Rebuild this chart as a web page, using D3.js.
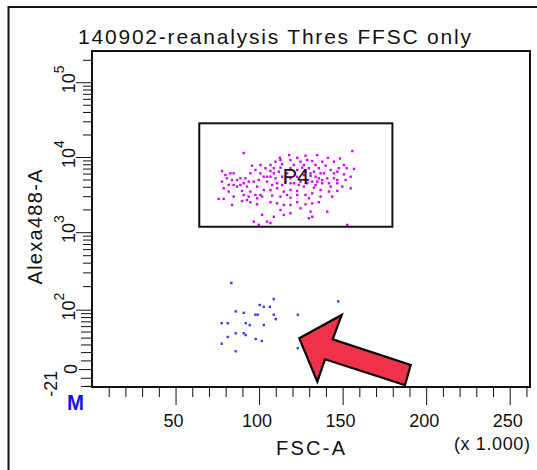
<!DOCTYPE html>
<html>
<head>
<meta charset="utf-8">
<script src="https://cdn.jsdelivr.net/npm/d3@7"></script>
<style>
  html, body { margin: 0; padding: 0; background: #fff; }
  svg { display: block; font-family: Arial, "Liberation Sans", sans-serif; }
</style>
</head>
<body>
<svg id="chart" width="537" height="470"></svg>
<script>
// ---- text ----
const titleText = "140902-reanalysis Thres FFSC only";
const xLabelText = "FSC-A";
const yLabelText = "Alexa488-A";
const xUnitText = "(x 1.000)";
const gateName = "P4";

// ---- axis ticks ----
const xMajorTicks = [50, 100, 150, 200, 250];          // FSC-A, x 1000
const xMinorTicks = [10, 20, 30, 40, 60, 70, 80, 90, 110, 120, 130, 140, 160, 170, 180, 190,
                     210, 220, 230, 240, 260];
const yDecadeTicks = [100, 1000, 10000, 100000];
const yDecadeExps = [2, 3, 4, 5];
const yMinorTicks = [200, 300, 400, 500, 600, 700, 800, 900,
                     2000, 3000, 4000, 5000, 6000, 7000, 8000, 9000,
                     20000, 30000, 40000, 50000, 60000, 70000, 80000, 90000, 200000];
const yLinearTicks = [-20, -10, 10, 20, 30, 40, 50, 60, 70, 80, 90];
const yZeroTick = 0;
const yBottomValue = -21;

// ---- gate P4 (FSC-A x1000, Alexa488-A) ----
const gateX = [64.2, 179.8];
const gateY = [1180, 28200];

// ---- events inside P4: [FSC-A (x1000), Alexa488-A] ----
const gatedEvents = [
  [90.8,11300],[155.8,12000],[118.0,10600],[127.8,10400],[134.8,10600],[141.2,9750],[148.4,9550],
  [112.4,9750],[118.8,9110],[124.8,8650],[131.8,8830],[137.8,8650],[144.8,8650],[109.8,8650],
  [106.8,7810],[113.8,8000],[120.8,7810],[126.8,7810],[133.8,7810],[100.8,7810],[95.8,7650],
  [103.8,7080],[108.8,7080],[112.8,7210],[129.8,7080],[135.8,7080],[139.8,7650],[142.8,6700],
  [147.8,7080],[152.4,7080],[156.8,6930],[97.8,6700],[106.8,6500],[111.8,6360],[122.8,6700],
  [127.8,6360],[132.8,6360],[138.8,6050],[144.8,6050],[150.8,5860],[154.8,5450],[77.8,6500],
  [79.8,5740],[82.8,6050],[84.8,6050],[88.8,5190],[86.8,4930],[83.8,4930],[77.8,4690],
  [81.8,4230],[84.8,4230],[91.8,5190],[93.8,4690],[96.8,4690],[99.8,4930],[102.8,5450],
  [106.8,5450],[109.8,5190],[113.8,5450],[118.8,5190],[122.8,5450],[126.8,5740],[130.8,5610],
  [135.8,5190],[140.8,5190],[146.8,4930],[151.8,4930],[78.8,3820],[81.8,3450],[86.8,4030],
  [89.8,3520],[92.8,4030],[94.8,3450],[90.8,3110],[93.8,2960],[97.8,3110],[100.8,3110],
  [102.8,3630],[106.8,3630],[110.8,3820],[113.8,4230],[118.8,4460],[123.8,4230],[128.8,4460],
  [133.8,4230],[137.8,4460],[142.8,4030],[146.8,4460],[149.8,4030],[154.8,3820],[75.8,2760],
  [78.8,2760],[83.8,2290],[89.8,2590],[92.8,2670],[98.8,2810],[101.8,2960],[107.8,3050],
  [112.8,2960],[116.8,3110],[122.8,3110],[127.8,3110],[131.8,3270],[141.8,3450],[146.8,3520],
  [110.8,2410],[114.8,2290],[118.8,2290],[122.8,2490],[127.8,2340],[131.8,2410],[135.8,2490],
  [106.8,2490],[112.8,1965],[118.8,1780],[124.8,2070],[130.8,1870],[140.8,1870],[108.8,1600],
  [114.8,1690],[96.8,1380],[99.8,1250],[104.8,1380],[106.8,1320],[129.8,1530],[131.8,1600],
  [152.8,1250],[101.8,1690],[118.8,7080],[125.8,7210],[130.8,6050],[133.8,5450],[136.8,6050],
  [128.8,4930],[124.8,4690],[120.8,4460],[131.8,4690],[134.8,4690],[137.8,4930],[115.8,4690],
  [110.8,4460],[107.8,4230],[104.8,4690],[141.8,4460],[144.8,5190],[116.8,6050],[108.8,6050],
  [100.8,6050],[104.8,5450],[94.8,6050],[90.8,4460],[126.8,4030],[132.8,3900],[118.8,3630],
  [114.8,3450],[122.8,3520],[136.8,3630],[98.8,4030],[88.8,4230],[80.8,5190],[112.8,9110],
  [122.8,9750],[128.8,9110],[150.8,7810],[146.8,6360],[118.8,2860],[129.8,2810],[136.8,2960],
  [143.8,2960],[98.8,2340],[94.8,2490],[84.8,2960]
];

// ---- events outside the gate: [FSC-A (x1000), Alexa488-A] ----
const otherEvents = [
  [83.4,220],[147.4,128],[108.8,137],[100.4,115],[102.8,109],[106.4,109],[86.0,95],[90.8,91],
  [97.8,86],[99.2,86],[108.8,86],[110.0,75],[123.2,86],[77.6,66],[81.2,66],[92.0,66],[94.4,62],
  [102.8,62],[86.0,47],[90.8,47],[92.0,44],[81.2,41],[77.6,31],[98.0,38],[101.6,35],[86.0,21],
  [123.2,25]
];

// ---- biexponential (logicle) display transform for the fluorescence axis ----
const T = 262144, M = 4.5, W = 0.24;
function solveP(w) {
  let lo = 1, hi = 100;
  for (let i = 0; i < 200; i++) {
    const mid = (lo + hi) / 2;
    const v = 2 * mid * Math.log10(mid) / (mid + 1);
    if (v < w) lo = mid; else hi = mid;
  }
  return (lo + hi) / 2;
}
const P = solveP(W);
const C = T * Math.pow(10, -(M - W));
function biexValue(x) { // display decades -> data value
  if (x >= W) return C * (Math.pow(10, x - W) - P * P * Math.pow(10, -(x - W) / P) + P * P - 1);
  return -biexValue(2 * W - x);
}
function biex(v) { // data value -> display decades
  let lo = -2, hi = M + 2;
  for (let i = 0; i < 100; i++) {
    const mid = (lo + hi) / 2;
    if (biexValue(mid) < v) lo = mid; else hi = mid;
  }
  return (lo + hi) / 2;
}

// ---- layout ----
const plot = { left: 92, right: 530, top: 51, bottom: 387 };
const svg = d3.select("#chart");

const x = d3.scaleLinear().domain([0, T / 1000]).range([plot.left, plot.right]);
const yd = d3.scaleLinear().domain([0, M]).range([plot.bottom, plot.top]);
const y = v => yd(biex(v));

// outer frame
svg.append("path")
  .attr("d", "M8.5,470 V7 H537")
  .attr("fill", "none").attr("stroke", "#111").attr("stroke-width", 2);

// title
svg.append("text")
  .attr("x", 78).attr("y", 44)
  .attr("font-size", 21).attr("fill", "#111")
  .attr("textLength", 393).attr("lengthAdjust", "spacing")
  .text(titleText);

// ---- axes ----
function yAxis(values, len) {
  return d3.axisLeft(yd).tickValues(values.map(biex)).tickSize(len).tickFormat("");
}
function xAxis(values, len) {
  return d3.axisBottom(x).tickValues(values).tickSize(len).tickFormat("");
}
function addAxis(axis, transform) {
  const g = svg.append("g").attr("transform", transform).call(axis);
  g.select(".domain").remove();
  g.selectAll(".tick line").attr("stroke", "#111");
  return g;
}
addAxis(yAxis(yDecadeTicks, 16), `translate(${plot.left},0)`);
addAxis(yAxis(yMinorTicks, 9), `translate(${plot.left},0)`);
addAxis(yAxis(yLinearTicks, 11), `translate(${plot.left},0)`);
addAxis(yAxis([yZeroTick], 13), `translate(${plot.left},0)`);
addAxis(yAxis([yBottomValue + 0.01], 7), `translate(${plot.left},-1)`);
addAxis(xAxis(xMajorTicks, 18), `translate(0,${plot.bottom})`);
addAxis(xAxis(xMinorTicks, 10), `translate(0,${plot.bottom})`);

// y tick labels (rotated, powers of ten)
yDecadeTicks.forEach((v, i) => {
  const t = svg.append("text")
    .attr("transform", `translate(75,${y(v) - 3}) rotate(-90)`)
    .attr("text-anchor", "middle")
    .attr("font-size", 18).attr("fill", "#111");
  t.append("tspan").text("10");
  t.append("tspan").attr("dy", -11).attr("font-size", 14).text(yDecadeExps[i]);
});
svg.append("text")
  .attr("transform", `translate(77,${y(yZeroTick)}) rotate(-90)`)
  .attr("text-anchor", "middle").attr("font-size", 18).attr("fill", "#111")
  .text("0");
svg.append("text")
  .attr("transform", `translate(57,${y(yBottomValue) - 3}) rotate(-90)`)
  .attr("text-anchor", "middle").attr("font-size", 18).attr("fill", "#111")
  .text(String(yBottomValue));

// x tick labels
xMajorTicks.forEach(v => {
  svg.append("text")
    .attr("x", x(v) - 2).attr("y", 427)
    .attr("text-anchor", "middle").attr("font-size", 18).attr("fill", "#111")
    .text(v);
});

// axis titles
svg.append("text")
  .attr("x", 276).attr("y", 455)
  .attr("font-size", 20).attr("fill", "#111")
  .attr("textLength", 69).attr("lengthAdjust", "spacing")
  .text(xLabelText);
svg.append("text")
  .attr("x", 454).attr("y", 450)
  .attr("font-size", 18).attr("fill", "#111")
  .attr("textLength", 76).attr("lengthAdjust", "spacing")
  .text(xUnitText);
svg.append("text")
  .attr("transform", "translate(42,227) rotate(-90)")
  .attr("text-anchor", "middle")
  .attr("font-size", 20).attr("fill", "#111")
  .attr("textLength", 115).attr("lengthAdjust", "spacing")
  .text(yLabelText);

// "M" marker under the axis corner
svg.append("text")
  .attr("x", 67).attr("y", 410)
  .attr("font-size", 22).attr("font-weight", "bold").attr("fill", "#1414f0")
  .attr("textLength", 17).attr("lengthAdjust", "spacingAndGlyphs")
  .text("M");

// ---- events ----
const dot = 2.4;
svg.append("g").selectAll("rect").data(otherEvents).join("rect")
  .attr("x", d => x(d[0]) - dot / 2).attr("y", d => y(d[1]) - dot / 2)
  .attr("width", dot).attr("height", dot).attr("fill", "#3a3aff");
svg.append("g").selectAll("rect").data(gatedEvents).join("rect")
  .attr("x", d => x(d[0]) - dot / 2).attr("y", d => y(d[1]) - dot / 2)
  .attr("width", dot).attr("height", dot).attr("fill", "#d400ff");

// gate
const gx0 = x(gateX[0]), gx1 = x(gateX[1]);
const gy0 = y(gateY[1]), gy1 = y(gateY[0]);
svg.append("rect")
  .attr("x", gx0).attr("y", gy0).attr("width", gx1 - gx0).attr("height", gy1 - gy0)
  .attr("fill", "none").attr("stroke", "#111").attr("stroke-width", 2);
svg.append("text")
  .attr("x", (gx0 + gx1) / 2).attr("y", (gy0 + gy1) / 2 + 9)
  .attr("text-anchor", "middle").attr("font-size", 22).attr("fill", "#111")
  .text(gateName);

// plot frame
svg.append("rect")
  .attr("x", plot.left).attr("y", plot.top)
  .attr("width", plot.right - plot.left).attr("height", plot.bottom - plot.top)
  .attr("fill", "none").attr("stroke", "#111").attr("stroke-width", 2);

// red pointer arrow
const arrowShape = [[299.3, 338.3], [341.7, 315], [332.7, 339.3], [410.7, 365],
                    [405, 385], [325, 359.3], [317.3, 381.7]];
svg.append("path")
  .attr("d", d3.line()(arrowShape) + "Z")
  .attr("fill", "#f0314a").attr("stroke", "#000").attr("stroke-width", 2.2)
  .attr("stroke-linejoin", "miter");
</script>
</body>
</html>
